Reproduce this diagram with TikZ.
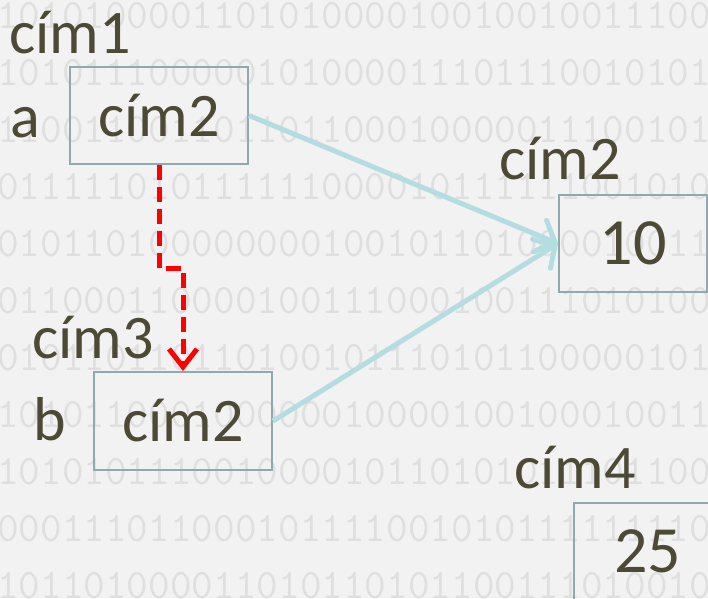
\documentclass[tikz,border=0pt]{standalone}
\usepackage{fontspec}
\setmainfont{Carlito}
\usetikzlibrary{arrows.meta,calc}
\definecolor{bgcol}{HTML}{F2F2F2}
\definecolor{bincol}{HTML}{DFDFDF}
\definecolor{inkcol}{HTML}{4C4A34}
\definecolor{framecol}{HTML}{8FA9AC}
\definecolor{linkblue}{HTML}{B3DDE0}
\definecolor{ptrred}{HTML}{FF0000}
\begin{document}
\begin{tikzpicture}[x=1pt,y=-1pt,
  binrow/.style={anchor=base west,inner sep=0pt,text=bincol,font=\ttfamily\fontsize{42}{42}\selectfont},
  lbl/.style={anchor=base west,inner sep=0pt,text=inkcol,font=\fontsize{62}{62}\selectfont},
  cell/.style={draw=framecol,line width=2pt,text=inkcol,inner sep=0pt,font=\fontsize{62}{62}\selectfont},
  numcell/.style={cell,font=\fontsize{66}{66}\selectfont},
  linkarrow/.style={draw=linkblue,line width=5pt,-{Straight Barb[length=16pt,width=34pt,line cap=round]}},
  ptrarrow/.style={draw=ptrred,line width=5pt,dash pattern=on 15pt off 7pt,-{Straight Barb[length=18pt,width=28pt]}}]
\clip (0,0) rectangle (708,598);
\fill[bgcol] (0,0) rectangle (708,598);
% background binary texture
\node[binrow] (br1) at (-3,28) {101010000110101000010010010011100};
\node[binrow] (br2) at (-3,85) {101011100000101000011101110010101};
\node[binrow] (br3) at (-3,142) {110011001101101100010000011100101};
\node[binrow] (br4) at (-3,199) {011111010111111000010111111001010};
\node[binrow] (br5) at (-3,256) {010110100000000100101101000010011};
\node[binrow] (br6) at (-3,313) {011000110000100111000100111010100};
\node[binrow] (br7) at (-3,370) {010110110110100101110101100000101};
\node[binrow] (br8) at (-3,427) {101011000100000010000100100010011};
\node[binrow] (br9) at (-3,484) {101010111001000010110101011101100};
\node[binrow] (br10) at (-3,541) {000111011000101111001010111111110};
\node[binrow] (br11) at (-3,598) {101101000011010110101100111010010};
% boxes
\node[cell,minimum width=178pt,minimum height=97pt] (boxa) at (159,115.5) {cím2};
\node[cell,minimum width=178pt,minimum height=98pt] (boxb) at (183,421) {cím2};
\node[numcell,minimum width=148pt,minimum height=97pt] (box10) at (633,243.5) {10};
\node[numcell,minimum width=147pt,minimum height=97pt] (box25) at (647.5,551.5) {25};
% labels
\node[lbl] (l1) at (9,53) {cím1};
\node[lbl] (la) at (10,137) {a};
\node[lbl] (l2) at (499,179) {cím2};
\node[lbl] (l3) at (32,358) {cím3};
\node[lbl] (lb) at (33,440) {b};
\node[lbl] (l4) at (514,488) {cím4};
% connectors
\draw[linkarrow] (boxa.east) -- (box10.west);
\draw[linkarrow] (boxb.east) -- (box10.west);
\draw[ptrarrow] (boxa.south) |- ($(boxa.south)!0.5!(boxb.north)$) -| (boxb.north);
\end{tikzpicture}
\end{document}
